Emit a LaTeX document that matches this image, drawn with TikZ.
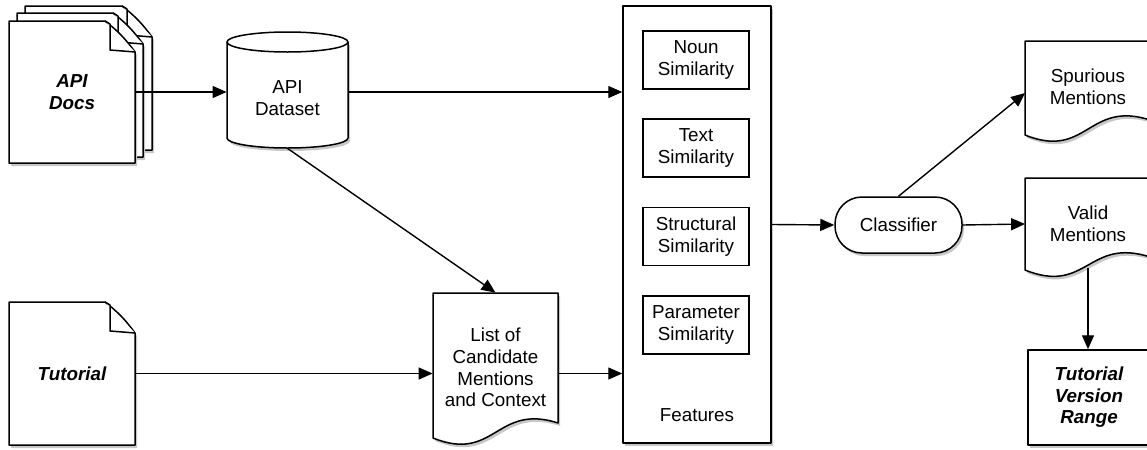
\documentclass[tikz,border=0pt]{standalone}
\usepackage{fontspec}
\setmainfont{Liberation Sans}
\usetikzlibrary{arrows.meta}

\tikzset{
  shade/.style={preaction={fill=black!22, transform canvas={xshift=1pt, yshift=-1.5pt}}},
  page/.style={draw, fill=white, line width=0.75pt, line join=round},
  lbl/.style={align=center, font=\fontsize{9.4}{10.8}\selectfont},
  bilbl/.style={align=center, font=\fontsize{9.4}{10.8}\selectfont\bfseries\itshape},
  simbox/.style={lbl, draw, line width=0.6pt, minimum width=53pt, minimum height=29pt},
  conn/.style={-{Triangle[length=7pt,width=6pt]}, line width=0.7pt},
}

\newcommand{\foldpage}[4]{%
  \draw[page, shade] (#1,#2) -- ({#3-30},#2) to[bend left=8] (#3,{#2+31}) -- (#3,#4) -- (#1,#4) -- cycle;
  \draw[page] ({#3-30},#2) -- ({#3-25},{#2+3}) -- ({#3-25},{#2+29}) -- (#3,{#2+31});
}
\newcommand{\wavedoc}[5]{%
  \draw[page, shade] (#1,#2) -- (#3,#2) -- (#3,#5) .. controls +(-62,-20) and +(62,25) .. (#1,#4) -- cycle;
}

\begin{document}
\begin{tikzpicture}[x=0.5pt, y=-0.5pt]
      \useasboundingbox (0,0) rectangle (1147,450);
      \clip (0,0) rectangle (1147,450);
      \foldpage{25}{6}{152}{150}
      \foldpage{17}{13}{143}{157}
      \foldpage{9}{21}{135}{163}
      \foldpage{9}{302}{135}{445}
      \draw[page, shade] (227,42) -- (227,138) arc[start angle=180, end angle=0, x radius=60.5, y radius=10] -- (348,42);
      \draw[page] (287.5,42) ellipse[x radius=60.5, y radius=10];
      \wavedoc{433}{293}{558}{438}{423}
      \wavedoc{1025}{41}{1150}{135}{120}
      \wavedoc{1025}{178}{1150}{270}{257}
      \node[bilbl, minimum width=63pt, minimum height=71pt] (docs) at (72,92) {API\\Docs};
      \node[bilbl, minimum width=63pt, minimum height=71.5pt] (tut) at (72,373.5) {Tutorial};
      \node[lbl, minimum width=60.5pt, minimum height=50pt] (dataset) at (287.5,98) {API\\Dataset};
      \node[lbl, minimum width=62.5pt, minimum height=74.5pt] (cands) at (495.5,367.5) {List of\\Candidate\\Mentions\\and Context};
      \node[page, shade, minimum width=74pt, minimum height=218.5pt] (feat) at (697,224.5) {};
      \node[simbox] (noun) at (696,60) {Noun\\Similarity};
      \node[simbox] (text) at (696,148) {Text\\Similarity};
      \node[simbox] (struct) at (696,236.5) {Structural\\Similarity};
      \node[simbox] (param) at (696,325) {Parameter\\Similarity};
      \node[lbl] (featlbl) at (697,415) {Features};
      \node[lbl, page, shade, rounded corners=13.5pt, minimum width=63.5pt, minimum height=28pt] (clf) at (898.5,225) {Classifier};
      \node[lbl, minimum width=62.5pt] (spur) at (1088,87) {Spurious\\Mentions};
      \node[lbl, minimum width=62.5pt] (valid) at (1088,224) {Valid\\Mentions};
      \node[bilbl, page, shade, minimum width=61pt, minimum height=47.5pt] (range) at (1089,397.5) {Tutorial\\Version\\Range};
      \coordinate (vwave) at (1088,268);
      \begin{scope}[conn]
        \draw (docs.east) -- (docs.east -| dataset.west);
        \draw (docs.east -| dataset.east) -- (docs.east -| feat.west);
        \draw (dataset.south) -- (cands.north);
        \draw (tut.east) -- (tut.east -| cands.west);
        \draw (tut.east -| cands.east) -- (tut.east -| feat.west);
        \draw (feat.east) -- (clf.west);
        \draw (clf.north) -- ([yshift=-3pt]spur.west);
        \draw (clf.east) -- (valid.west);
        \draw (vwave) -- (vwave |- range.north);
      \end{scope}
    \end{tikzpicture}
\end{document}
